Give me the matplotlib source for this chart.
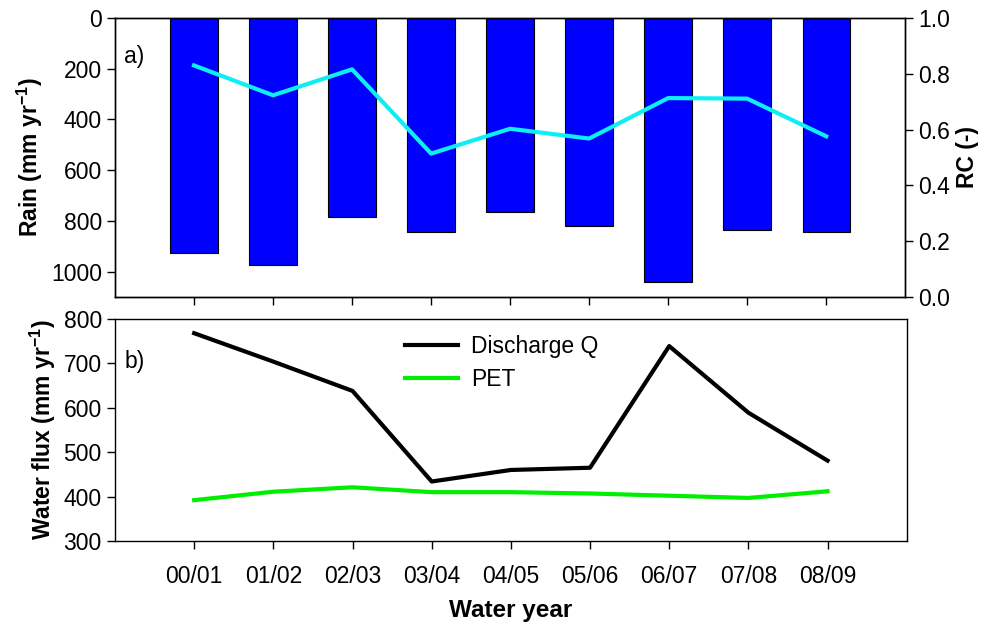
import matplotlib
matplotlib.use('Agg')
import matplotlib.pyplot as plt

plt.rcParams['font.family'] = ['Liberation Sans', 'DejaVu Sans']
plt.rcParams['mathtext.fontset'] = 'custom'
plt.rcParams['mathtext.rm'] = 'Liberation Sans'
plt.rcParams['mathtext.bf'] = 'Liberation Sans:bold'

years = ['00/01', '01/02', '02/03', '03/04', '04/05', '05/06', '06/07', '07/08', '08/09']
rain = [928, 975, 786, 844, 765, 822, 1039, 835, 843]
rc = [0.83, 0.723, 0.816, 0.514, 0.603, 0.568, 0.713, 0.711, 0.576]
discharge = [768, 704, 638, 434, 460, 465, 739, 589, 481]
pet = [392, 411, 421, 410, 410, 407, 402, 397, 412]

x = list(range(len(years)))
fs = 16.5

fig = plt.figure(figsize=(9.94, 6.25), dpi=100)
ax1 = fig.add_axes([0.1157, 0.5248, 0.795, 0.4464])
ax3 = fig.add_axes([0.1157, 0.1344, 0.7965, 0.3552])

# top panel: rain bars (inverted) + RC on twin axis
ax1.bar(x, rain, width=0.6, color='#0000ff', edgecolor='black', linewidth=0.8)
ax1.set_ylim(1100, 0)
ax1.set_yticks([0, 200, 400, 600, 800, 1000])
ax1.set_xlim(-1, 9)
ax1.set_xticks(x)
ax1.set_xticklabels([])
ax1.set_ylabel(r'Rain (mm yr$^{\mathbf{-1}}$)', fontsize=fs, fontweight='bold')
ax1.text(0.012, 0.84, 'a)', transform=ax1.transAxes, fontsize=fs)

ax2 = ax1.twinx()
ax2.plot(x, rc, color='#10eef5', linewidth=3)
ax2.set_ylim(0, 1.0)
ax2.set_yticks([0.0, 0.2, 0.4, 0.6, 0.8, 1.0])
ax2.set_yticklabels(['0.0', '0.2', '0.4', '0.6', '0.8', '1.0'])
ax2.set_ylabel('RC (-)', fontsize=fs, fontweight='bold')

# bottom panel: discharge and PET
ax3.plot(x, discharge, color='black', linewidth=3, label='Discharge Q')
ax3.plot(x, pet, color='#00ee00', linewidth=3, label='PET')
ax3.set_xlim(-1, 9)
ax3.set_ylim(300, 800)
ax3.set_yticks([300, 400, 500, 600, 700, 800])
ax3.set_xticks(x)
ax3.set_xticklabels(years)
ax3.set_xlabel('Water year', fontsize=17.5, fontweight='bold', labelpad=8)
ax3.set_ylabel(r'Water flux (mm yr$^{\mathbf{-1}}$)', fontsize=fs, fontweight='bold')
ax3.text(0.012, 0.78, 'b)', transform=ax3.transAxes, fontsize=fs)
ax3.legend(loc='upper left', bbox_to_anchor=(0.34, 1.02), frameon=False,
           fontsize=fs, handlelength=2.3, labelspacing=0.45, handletextpad=0.6)

for ax in (ax1, ax2, ax3):
    ax.tick_params(direction='out', length=6, labelsize=fs, width=1)
    for s in ax.spines.values():
        s.set_linewidth(1)
ax3.tick_params(axis='x', pad=11)

fig.savefig('out.png', dpi=100)
